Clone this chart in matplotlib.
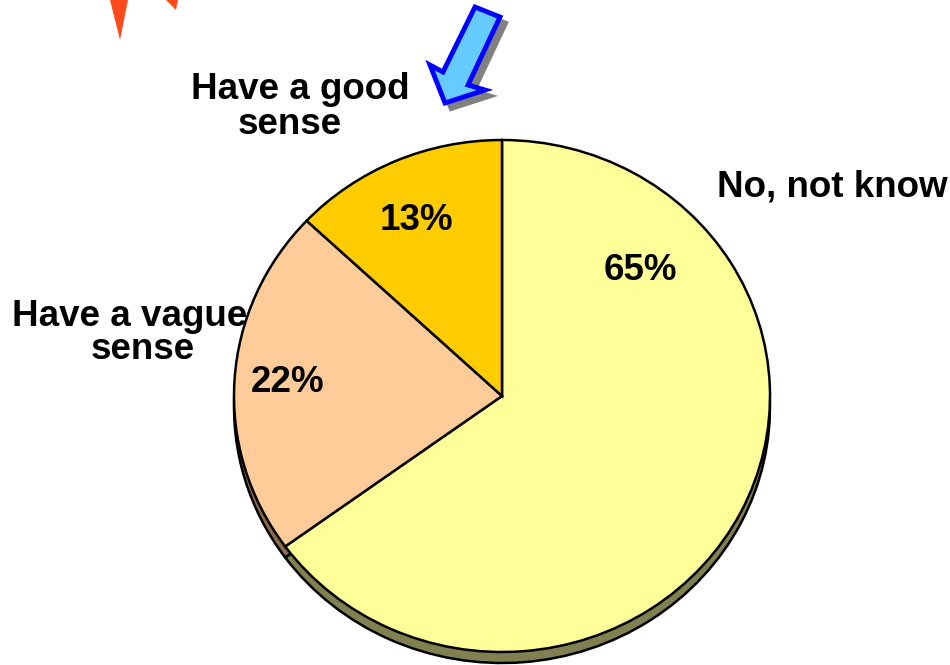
import matplotlib
matplotlib.use("Agg")
import matplotlib.pyplot as plt
from matplotlib.patches import Polygon

# ---- data ----
categories = ["No, not know", "Have a vague\nsense", "Have a good\nsense"]
values = [65, 22, 13]
top_colors = ["#FFFF99", "#FFCC99", "#FFCC00"]
side_colors = ["#808050", "#8C6A4C", "#806600"]

W, H = 950, 665
fig = plt.figure(figsize=(W / 100, H / 100), dpi=100)
fig.patch.set_facecolor("white")

# pie geometry (pixels)
cx, cy, rx, ry, depth = 502, 396, 268, 256, 11

ax_pie = fig.add_axes([(cx - rx) / W, (H - cy - ry) / H, 2 * rx / W, 2 * ry / H])
ax_pie.set_axis_off()

wp = dict(edgecolor="black", linewidth=1.8)
# side / depth layer
sw, _ = ax_pie.pie(values, colors=side_colors, startangle=90, counterclock=False,
                   center=(0, -depth / ry), radius=1, wedgeprops=wp)
# top layer
tw, _ = ax_pie.pie(values, colors=top_colors, startangle=90, counterclock=False,
                   center=(0, 0), radius=1, wedgeprops=wp)
for w in list(sw) + list(tw):
    w.set_clip_on(False)
ax_pie.set_aspect("auto")
ax_pie.set_xlim(-1, 1)
ax_pie.set_ylim(-1, 1)

# overlay in pixel coordinates
ax = fig.add_axes([0, 0, 1, 1])
ax.set_xlim(0, W)
ax.set_ylim(H, 0)
ax.set_axis_off()
ax.patch.set_alpha(0)

font = dict(family=["Liberation Sans", "DejaVu Sans"], fontweight="bold",
            fontsize=26.5, color="black")

# category labels: per line (x_center, baseline_y)
label_pos = [
    [(832, 197)],
    [(130, 326), (143, 359)],
    [(300, 99), (290, 134)],
]
for cat, pos in zip(categories, label_pos):
    for line, (x, y) in zip(cat.split("\n"), pos):
        ax.text(x, y, line, ha="center", va="baseline", **font)

# percentage labels
pct_pos = [(640, 266), (288, 379), (416, 216)]
for v, (x, y) in zip(values, pct_pos):
    ax.text(x, y, f"{v}%", ha="center", va="center_baseline", **font)

# decorative blue arrow with shadow
arrow = [(475, 7), (500, 17), (468, 85), (485, 90), (445, 103), (430, 65), (443, 72)]
shadow = [(x + 6, y + 6) for x, y in arrow]
ax.add_patch(Polygon(shadow, closed=True, facecolor="#808080", edgecolor="#808080",
                     linewidth=3, joinstyle="miter"))
ax.add_patch(Polygon(arrow, closed=True, facecolor="#66CCFF", edgecolor="#0000FF",
                     linewidth=3.5, joinstyle="miter"))

# decorative red spikes (cut at top edge)
ax.add_patch(Polygon([(110, 0), (128, 0), (120, 40)], closed=True,
                     facecolor="#FF4A1C", edgecolor="none"))
ax.add_patch(Polygon([(166, 0), (178, 0), (176, 10)], closed=True,
                     facecolor="#FF4A1C", edgecolor="none"))

fig.savefig("out.png", dpi=100, facecolor="white")
